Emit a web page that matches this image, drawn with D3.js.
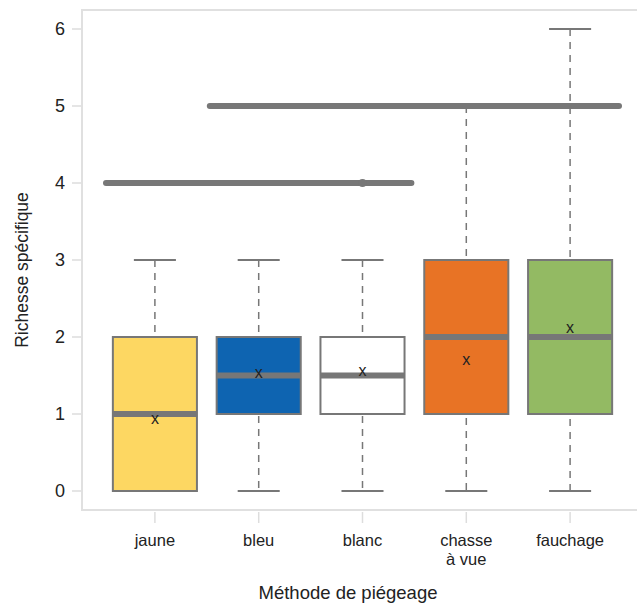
<!DOCTYPE html>
<html>
<head>
<meta charset="utf-8">
<script src="https://cdn.jsdelivr.net/npm/d3@7"></script>
<style>
  body { margin: 0; background: #fff; }
  text { font-family: "Liberation Sans", Arial, sans-serif; fill: #222; }
</style>
</head>
<body>
<div id="chart"></div>
<script>
// boxplot summaries
var methods = ["jaune", "bleu", "blanc", "chasse\nà vue", "fauchage"];
var colors  = ["#fdd762", "#0e64b1", "#ffffff", "#e87325", "#93ba63"];
var lowWhisker  = [0, 0, 0, 0, 0];
var q1          = [0, 1, 1, 1, 1];
var medians     = [1, 1.5, 1.5, 2, 2];
var q3          = [2, 2, 2, 3, 3];
var highWhisker = [3, 3, 3, 5, 6];
var means       = [0.93, 1.53, 1.56, 1.7, 2.12];
// outliers: value and the methods where they pile up
var outlierValues = [4, 5];
var outlierGroups = [["jaune", "bleu", "blanc"], ["bleu", "blanc", "chasse\nà vue", "fauchage"]];
var yTicks = [0, 1, 2, 3, 4, 5, 6];

var width = 637, height = 604;
var plotLeft = 82, plotTop = 10, plotBottom = 510;
var grey = "#777";

var svg = d3.select("#chart").append("svg")
    .attr("width", width)
    .attr("height", height);

var x = d3.scaleBand()
    .domain(methods)
    .range([103, 622])
    .padding(0);
var y = d3.scaleLinear()
    .domain([0, 6])
    .range([491, 29]);

var boxW = x.bandwidth() * 0.81;
var capW = boxW / 2;

// frame (left, top, bottom)
svg.append("path")
    .attr("d", "M" + width + "," + plotTop + "H" + plotLeft + "V" + plotBottom + "H" + width)
    .attr("fill", "none")
    .attr("stroke", "#e0e0e0")
    .attr("stroke-width", 2);

// y axis ticks and labels
yTicks.forEach(function(t) {
  svg.append("line")
    .attr("x1", 72).attr("x2", 81)
    .attr("y1", y(t)).attr("y2", y(t))
    .attr("stroke", "#ddd").attr("stroke-width", 1.5);
  svg.append("text")
    .attr("x", 65).attr("y", y(t))
    .attr("dy", "0.35em")
    .attr("text-anchor", "end")
    .style("font-size", "18px")
    .text(t);
});

// x ticks and labels (one text per line)
methods.forEach(function(m) {
  var cx = x(m) + x.bandwidth() / 2;
  svg.append("line")
    .attr("x1", cx).attr("x2", cx)
    .attr("y1", 512).attr("y2", 523)
    .attr("stroke", "#ddd").attr("stroke-width", 1.5);
  m.split("\n").forEach(function(l, i) {
    svg.append("text")
      .attr("x", cx).attr("y", 546 + i * 19)
      .attr("text-anchor", "middle")
      .style("font-size", "16.5px")
      .text(l);
  });
});

// axis titles
svg.append("text")
  .attr("x", 348).attr("y", 599)
  .attr("text-anchor", "middle")
  .style("font-size", "18.5px")
  .text("Méthode de piégeage");
svg.append("text")
  .attr("transform", "translate(28,270) rotate(-90)")
  .attr("text-anchor", "middle")
  .style("font-size", "17.5px")
  .text("Richesse spécifique");

var g = svg.selectAll("g.box")
  .data(methods)
  .enter().append("g")
  .attr("class", "box");

// whiskers
g.append("line")
  .attr("x1", (d) => x(d) + x.bandwidth() / 2)
  .attr("x2", (d) => x(d) + x.bandwidth() / 2)
  .attr("y1", (d, i) => y(highWhisker[i]))
  .attr("y2", (d, i) => y(lowWhisker[i]))
  .attr("stroke", grey).attr("stroke-width", 1.5)
  .attr("stroke-dasharray", "7,6");
[lowWhisker, highWhisker].forEach(function(arr) {
  g.append("line")
    .attr("x1", (d) => x(d) + x.bandwidth() / 2 - capW / 2)
    .attr("x2", (d) => x(d) + x.bandwidth() / 2 + capW / 2)
    .attr("y1", (d, i) => y(arr[i]))
    .attr("y2", (d, i) => y(arr[i]))
    .attr("stroke", grey).attr("stroke-width", 2);
});

// boxes
g.append("rect")
  .attr("x", (d) => x(d) + (x.bandwidth() - boxW) / 2)
  .attr("width", boxW)
  .attr("y", (d, i) => y(q3[i]))
  .attr("height", (d, i) => y(q1[i]) - y(q3[i]))
  .attr("fill", (d, i) => colors[i])
  .attr("stroke", grey).attr("stroke-width", 2);

// medians
g.append("line")
  .attr("x1", (d) => x(d) + (x.bandwidth() - boxW) / 2)
  .attr("x2", (d) => x(d) + (x.bandwidth() + boxW) / 2)
  .attr("y1", (d, i) => y(medians[i]))
  .attr("y2", (d, i) => y(medians[i]))
  .attr("stroke", grey).attr("stroke-width", 6);

// means
g.append("text")
  .attr("x", (d) => x(d) + x.bandwidth() / 2)
  .attr("y", (d, i) => y(means[i]))
  .attr("dy", "0.3em")
  .attr("text-anchor", "middle")
  .style("font-size", "16px")
  .text("x");

// outliers, so dense they form a thick bar
outlierValues.forEach(function(v, k) {
  var grp = outlierGroups[k];
  var x0 = x(grp[0]), x1 = x(grp[grp.length - 1]) + x.bandwidth();
  svg.append("line")
    .attr("x1", x0 + 3).attr("x2", x1 - 3)
    .attr("y1", y(v)).attr("y2", y(v))
    .attr("stroke", grey).attr("stroke-width", 6)
    .attr("stroke-linecap", "round");
});
svg.append("circle")
  .attr("cx", x("blanc") + x.bandwidth() / 2)
  .attr("cy", y(4))
  .attr("r", 4)
  .attr("fill", grey);
</script>
</body>
</html>
